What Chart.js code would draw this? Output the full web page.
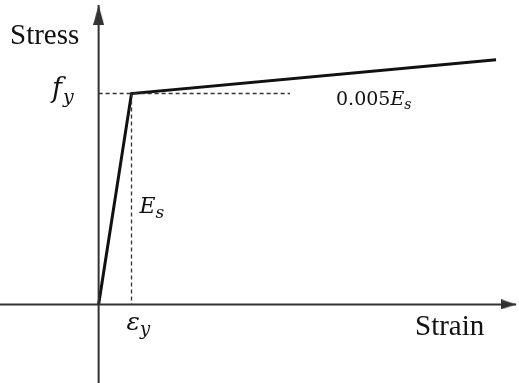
<!DOCTYPE html>
<html>
<head>
<meta charset="utf-8">
<script src="https://cdn.jsdelivr.net/npm/chart.js@4/dist/chart.umd.min.js"></script>
<style>
  html, body { margin: 0; padding: 0; background: #fff; }
  canvas { display: block; }
</style>
</head>
<body>
<canvas id="chart" width="519" height="383"></canvas>
<script>
// bilinear stress-strain curve (strain in units of eps_y, stress in units of f_y)
const strain = [0, 1, 12.09];
const stress = [0, 1, 1.16];

// guide lines at the yield point
const yieldGuideX = [0, 5.82];
const yieldGuideY = [1, 0];

// axis extents (tip of arrow is the last value)
const xAxisRange = [-3.2, 12.70];
const yAxisRange = [-0.40, 1.42];

const axisLabels = ['Stress', 'Strain'];

// where the origin sits and how many pixels one unit takes
const frame = { originX: 98, originY: 305, unitX: 33, unitY: 212 };

function arrowHead(w, len) {
  // arrow pointing up with its tip at the centre of the canvas,
  // so the point is drawn right on the tip
  const c = document.createElement('canvas');
  c.width = w;
  c.height = len * 2;
  const g = c.getContext('2d');
  g.fillStyle = '#333';
  g.beginPath();
  g.moveTo(w / 2, len);
  g.lineTo(w, len * 2);
  g.lineTo(0, len * 2);
  g.closePath();
  g.fill();
  return c;
}

const arrowY = arrowHead(11, 20);
const arrowX = arrowHead(10, 15);

const xy = (xs, ys) => xs.map((x, i) => ({ x, y: ys[i] }));

// draw a label with italic / subscript parts, left-baseline at (x, y)
function drawParts(ctx, x, y, parts) {
  parts.forEach(p => {
    ctx.font = (p.italic ? 'italic ' : '') + p.size + 'px "DejaVu Serif"';
    ctx.fillText(p.t, x, y + (p.dy || 0));
    x += ctx.measureText(p.t).width + (p.gap || 0);
  });
}

const labelsPlugin = {
  id: 'labels',
  afterDraw(chart) {
    const ctx = chart.ctx;
    const xs = chart.scales.x, ys = chart.scales.y;
    ctx.save();
    ctx.fillStyle = '#111';
    ctx.textAlign = 'left';
    ctx.textBaseline = 'alphabetic';

    ctx.font = '29px "Liberation Serif"';
    ctx.fillText(axisLabels[0], 10, 44);
    ctx.fillText(axisLabels[1], 415, 335);

    // f_y next to the yield level
    const py = ys.getPixelForValue(1);
    drawParts(ctx, 52, py + 3, [
      { t: 'f', italic: true, size: 27, gap: 1 },
      { t: 'y', italic: true, size: 19, dy: 6 }
    ]);

    // hardening slope
    drawParts(ctx, 336, 105, [
      { t: '0.005', size: 19 },
      { t: 'E', italic: true, size: 19 },
      { t: 's', italic: true, size: 14, dy: 4 }
    ]);

    // elastic modulus
    drawParts(ctx, xs.getPixelForValue(1) + 8, 213, [
      { t: 'E', italic: true, size: 22 },
      { t: 's', italic: true, size: 17, dy: 5 }
    ]);

    // yield strain
    drawParts(ctx, xs.getPixelForValue(1) - 5, 330, [
      { t: 'ε', italic: true, size: 25 },
      { t: 'y', italic: true, size: 18, dy: 5 }
    ]);
    ctx.restore();
  }
};

const lineDefaults = {
  showLine: true,
  pointRadius: 0,
  pointHoverRadius: 0,
  pointBorderWidth: 0,
  clip: false
};

const chart = new Chart(document.getElementById('chart'), {
  type: 'scatter',
  data: {
    datasets: [
      {
        ...lineDefaults,
        // x axis
        data: xy(xAxisRange, [0, 0]),
        borderColor: '#333',
        borderWidth: 2,
        pointRadius: [0, 0.5],
        pointStyle: arrowX,
        rotation: 90
      },
      {
        ...lineDefaults,
        // y axis
        data: xy([0, 0], yAxisRange),
        borderColor: '#333',
        borderWidth: 2,
        pointRadius: [0, 0.5],
        pointStyle: arrowY
      },
      {
        ...lineDefaults,
        data: xy(yieldGuideX, [1, 1]),
        borderColor: '#333',
        borderWidth: 1.3,
        borderDash: [4, 3]
      },
      {
        ...lineDefaults,
        data: xy([1, 1], yieldGuideY),
        borderColor: '#333',
        borderWidth: 1.3,
        borderDash: [4, 3]
      },
      {
        ...lineDefaults,
        data: xy(strain, stress),
        borderColor: '#111',
        borderWidth: 3,
        borderJoinStyle: 'miter',
        tension: 0
      }
    ]
  },
  options: {
    responsive: false,
    animation: false,
    events: [],
    layout: { padding: 0 },
    plugins: {
      legend: { display: false },
      tooltip: { enabled: false }
    },
    scales: {
      x: { type: 'linear', min: -3, max: 13, display: false },
      y: { type: 'linear', min: -0.4, max: 1.5, display: false }
    }
  },
  plugins: [labelsPlugin]
});

// fit the scale limits to the real chart area so the origin lands where it should
const area = chart.chartArea;
const xMin = -(frame.originX - area.left) / frame.unitX;
const yMax = (frame.originY - area.top) / frame.unitY;
chart.options.scales.x.min = xMin;
chart.options.scales.x.max = xMin + (area.right - area.left) / frame.unitX;
chart.options.scales.y.max = yMax;
chart.options.scales.y.min = yMax - (area.bottom - area.top) / frame.unitY;
chart.update();
</script>
</body>
</html>
